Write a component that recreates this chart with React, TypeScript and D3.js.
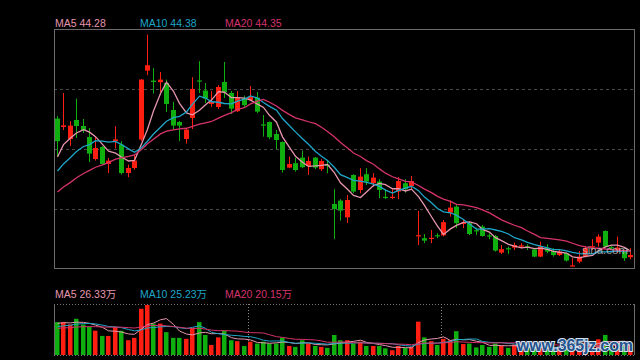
import React, { useEffect, useRef } from "react";
import * as d3 from "d3";

// daily candles (oldest -> newest)
const opens = [
  50.87, 50.45, 49.85, 50.8, 50.5, 49.95, 48.85, 49.45, 48.6, 49.75,
  49.57, 48.15, 48.4, 49.82, 53.27, 52.77, 52.69, 52.65, 51.3, 50.7,
  49.85, 50.9, 52.78, 52.27, 51.6, 51.45, 52.7, 52.15, 51.24, 51.9,
  51.8, 51.92, 50.58, 50.7, 50.1, 49.7, 48.42, 48.64, 48.92, 48.5,
  48.92, 48.34, 48.56, 46.6, 46.77, 45.93, 48.05, 47.3, 48.09, 47.64,
  47.72, 46.96, 46.91, 47.22, 47.64, 47.5, 44.99, 44.89, 44.86, 45.04,
  45.03, 46.17, 46.47, 45.6, 45.64, 45.29, 45.47, 45.03, 45.0, 44.17,
  44.39, 44.42, 44.48, 44.49, 44.33, 43.97, 44.39, 44.25, 44.05, 44.14,
  43.49, 43.72, 43.97, 44.44, 44.67, 45.25, 44.44, 44.22, 44.22, 43.94,
];
const closes = [
  49.74, 50.53, 50.52, 50.5, 50.3, 49.12, 49.4, 48.6, 48.77, 49.83,
  48.15, 48.4, 48.77, 52.82, 53.54, 52.7, 52.82, 51.6, 50.52, 50.52,
  50.32, 52.35, 52.73, 51.87, 51.7, 52.45, 52.19, 51.37, 51.9, 51.54,
  51.95, 51.22, 50.53, 49.94, 49.8, 48.3, 48.6, 48.3, 48.44, 48.75,
  48.42, 48.75, 48.51, 46.35, 46.27, 46.8, 47.22, 47.97, 47.72, 47.92,
  47.3, 46.91, 46.96, 47.75, 47.34, 47.75, 45.04, 44.77, 44.91, 44.99,
  45.69, 46.42, 45.64, 45.67, 45.1, 45.24, 45.0, 44.98, 44.27, 44.34,
  44.34, 44.55, 44.53, 44.44, 43.97, 44.48, 44.22, 44.05, 44.22, 43.77,
  43.53, 43.97, 44.39, 44.49, 44.97, 44.47, 44.39, 44.42, 43.89, 44.05,
];
const highs = [
  51.0, 52.15, 50.74, 51.87, 50.85, 50.4, 49.99, 49.5, 48.9, 50.49,
  49.74, 48.57, 49.07, 52.85, 55.07, 53.4, 53.2, 52.82, 51.7, 50.75,
  50.4, 52.94, 53.74, 52.65, 52.24, 52.54, 53.7, 52.25, 52.24, 52.02,
  52.5, 52.2, 51.05, 50.73, 50.3, 49.73, 48.97, 48.92, 49.27, 48.97,
  48.95, 48.84, 48.75, 47.34, 46.84, 47.05, 48.09, 48.39, 48.39, 48.14,
  47.84, 47.34, 47.34, 47.94, 47.84, 48.0, 46.25, 45.1, 45.3, 45.14,
  45.8, 46.77, 46.6, 45.8, 45.72, 45.42, 45.55, 45.14, 45.05, 44.55,
  44.47, 44.67, 44.64, 44.59, 44.38, 44.72, 44.59, 44.39, 44.3, 44.17,
  43.89, 44.25, 44.5, 44.84, 45.09, 45.28, 44.5, 44.97, 44.3, 44.39,
];
const lows = [
  49.0, 50.3, 49.5, 49.9, 50.15, 48.7, 48.77, 48.57, 48.15, 49.38,
  48.07, 47.94, 48.32, 49.74, 53.04, 52.12, 52.2, 51.2, 50.32, 49.74,
  49.62, 50.35, 52.15, 51.65, 51.45, 51.35, 51.9, 51.1, 51.2, 51.4,
  51.75, 51.14, 49.97, 49.84, 49.34, 48.17, 48.39, 48.22, 48.39, 48.05,
  48.34, 48.25, 48.14, 44.85, 45.77, 45.65, 47.14, 47.14, 47.55, 47.47,
  46.89, 46.84, 46.84, 46.84, 47.17, 47.34, 44.55, 44.64, 44.64, 44.89,
  44.98, 45.97, 45.39, 45.39, 45.05, 45.05, 44.97, 44.84, 44.22, 44.1,
  44.1, 44.3, 44.39, 44.3, 43.94, 43.94, 44.14, 43.97, 44.0, 43.72,
  43.47, 43.64, 43.93, 44.3, 44.47, 44.43, 44.3, 44.14, 43.75, 43.84,
];
// volume in 万 shares
const volumes = [
  69, 69, 64, 76, 64, 59, 51, 40, 40, 59,
  51, 31, 36, 97, 105, 66, 66, 48, 36, 36,
  34, 57, 69, 42, 21, 37, 51, 31, 29, 19,
  28, 24, 28, 24, 24, 36, 19, 17, 31, 24,
  19, 17, 15, 42, 31, 31, 24, 28, 19, 19,
  19, 14, 10, 19, 15, 17, 70, 37, 29, 21,
  34, 31, 50, 23, 24, 16, 21, 17, 24, 20,
  15, 22, 12, 15, 16, 20, 11, 11, 10, 18,
  21, 19, 26, 22, 33, 42, 17, 28, 24, 20,
];
// sessions before the visible window, only used to seed the moving averages
const priorCloses = [
  45.6, 45.8, 45.9, 46.0, 46.1, 46.2, 46.3, 46.4, 46.5, 46.7,
  47.0, 47.3, 47.5, 47.8, 48.15, 47.43, 48.87, 49.25, 49.46,
];
const priorVolumes = [
  50, 55, 48, 52, 56, 51, 53, 50, 55, 55,
  50, 52, 53, 54, 53.5, 62, 66, 68, 67,
];
const maPeriods = [5, 10, 20];
const priceLegend = ["MA5 44.28", "MA10 44.38", "MA20 44.35"];
const volumeLegend = ["MA5 26.33万", "MA10 25.23万", "MA20 20.15万"];
const monthStarts = [30, 60];
const priceDomain = [43.35, 55.35];

const maColors = ["#e596ad", "#1ea6c8", "#d5336b"];
const upColor = "#ff1e12";
const downColor = "#0faf0f";

function movingAverage(prior: number[], values: number[], n: number) {
  const all = prior.concat(values);
  return values.map((_v, i) => {
    const end = prior.length + i + 1;
    return d3.mean(all.slice(end - n, end)) as number;
  });
}

export default function App() {
  const ref = useRef<SVGSVGElement | null>(null);

  useEffect(() => {
    const svg = d3.select(ref.current);
    svg.selectAll("*").remove();

    const left = 54;
    const right = 634;
    const priceTop = 29;
    const priceBottom = 269;
    const volTop = 304;
    const volBottom = 355;
    const idx = d3.range(closes.length);

    const x = d3.scaleBand<number>().domain(idx).range([left, right]);
    const bodyW = 5;
    const x0 = (i: number) => Math.round((x(i) as number) + x.bandwidth() / 2 - bodyW / 2);
    const cx = (i: number) => x0(i) + bodyW / 2;

    const y = d3.scaleLinear().domain(priceDomain).range([priceBottom, priceTop]);
    const yv = d3
      .scaleLinear()
      .domain([0, d3.max(volumes) as number])
      .range([volBottom, volTop + 1]);

    const isUp = (i: number) => closes[i] >= opens[i];
    const colorOf = (i: number) => (isUp(i) ? upColor : downColor);

    svg.append("rect").attr("width", 640).attr("height", 360).attr("fill", "#000");

    // price panel frame + grid
    const grid = svg.append("g");
    [1, 2, 3].forEach((k) => {
      const gy = Math.round(priceTop + ((priceBottom - priceTop) * k) / 4) + 0.5;
      grid
        .append("line")
        .attr("x1", left)
        .attr("x2", right)
        .attr("y1", gy)
        .attr("y2", gy)
        .attr("stroke", "#4a4a4a")
        .attr("stroke-dasharray", "3,3");
    });
    svg
      .append("rect")
      .attr("x", left + 0.5)
      .attr("y", priceTop + 0.5)
      .attr("width", right - left)
      .attr("height", priceBottom - priceTop - 1)
      .attr("fill", "none")
      .attr("stroke", "#6b6b6b");

    // candles
    const candles = svg.append("g").selectAll("g").data(idx).join("g");
    candles
      .append("line")
      .attr("x1", (i) => cx(i))
      .attr("x2", (i) => cx(i))
      .attr("y1", (i) => y(highs[i]))
      .attr("y2", (i) => y(lows[i]))
      .attr("stroke", colorOf);
    candles
      .append("rect")
      .attr("x", (i) => x0(i))
      .attr("width", bodyW)
      .attr("y", (i) => y(Math.max(opens[i], closes[i])))
      .attr("height", (i) => Math.max(1.2, Math.abs(y(opens[i]) - y(closes[i]))))
      .attr("fill", colorOf);

    // price moving averages
    maPeriods.forEach((n, k) => {
      const ma = movingAverage(priorCloses, closes, n);
      const line = d3
        .line<number>()
        .x((_d, i) => cx(i))
        .y((d) => y(d));
      svg
        .append("path")
        .attr("d", line(ma))
        .attr("fill", "none")
        .attr("stroke", maColors[k])
        .attr("stroke-width", 1.3);
    });

    svg
      .append("text")
      .attr("x", 582)
      .attr("y", 254)
      .attr("fill", "#c8c8c8")
      .attr("opacity", 0.75)
      .style("font", "11.5px Arial, 'Liberation Sans', sans-serif")
      .text("sina.com");

    // legends
    const legendX = [55, 140, 225];
    priceLegend.forEach((t, k) => {
      svg
        .append("text")
        .attr("x", legendX[k])
        .attr("y", 27)
        .attr("fill", maColors[k])
        .style("font", "10.5px Arial, 'Liberation Sans', sans-serif")
        .text(t);
    });
    volumeLegend.forEach((t, k) => {
      svg
        .append("text")
        .attr("x", legendX[k])
        .attr("y", 298)
        .attr("fill", maColors[k])
        .style("font", "10.5px Arial, 'Liberation Sans', 'Noto Sans CJK SC', sans-serif")
        .text(t);
    });

    // volume panel
    [volTop + 0.5, volBottom + 0.5].forEach((gy) => {
      svg
        .append("line")
        .attr("x1", left)
        .attr("x2", right)
        .attr("y1", gy)
        .attr("y2", gy)
        .attr("stroke", "#777")
        .attr("stroke-dasharray", "1,2");
    });
    [left + 0.5, right + 0.5].forEach((gx) => {
      svg
        .append("line")
        .attr("x1", gx)
        .attr("x2", gx)
        .attr("y1", volTop)
        .attr("y2", volBottom)
        .attr("stroke", "#6b6b6b");
    });
    monthStarts.forEach((i) => {
      svg
        .append("line")
        .attr("x1", x0(i) + 0.5)
        .attr("x2", x0(i) + 0.5)
        .attr("y1", volTop)
        .attr("y2", volBottom)
        .attr("stroke", "#888")
        .attr("stroke-dasharray", "1,2");
    });

    svg
      .append("g")
      .selectAll("rect")
      .data(idx)
      .join("rect")
      .attr("x", (i) => x0(i))
      .attr("width", bodyW - 0.5)
      .attr("y", (i) => yv(volumes[i]))
      .attr("height", (i) => volBottom - yv(volumes[i]))
      .attr("fill", colorOf);

    maPeriods.forEach((n, k) => {
      const ma = movingAverage(priorVolumes, volumes, n);
      const line = d3
        .line<number>()
        .x((_d, i) => cx(i))
        .y((d) => yv(d));
      svg
        .append("path")
        .attr("d", line(ma))
        .attr("fill", "none")
        .attr("stroke", maColors[k])
        .attr("stroke-width", 1);
    });

    svg
      .append("text")
      .attr("x", 517)
      .attr("y", 351)
      .attr("textLength", 116)
      .attr("fill", "#24528c")
      .attr("stroke", "#d6e2ee")
      .attr("stroke-width", 2)
      .attr("paint-order", "stroke")
      .style("font", "bold 16px Arial, 'Liberation Sans', sans-serif")
      .text("www.365jz.com");
  }, []);

  return (
    <svg
      ref={ref}
      width={640}
      height={360}
      style={{ position: "absolute", left: 0, top: 0, display: "block" }}
    />
  );
}
